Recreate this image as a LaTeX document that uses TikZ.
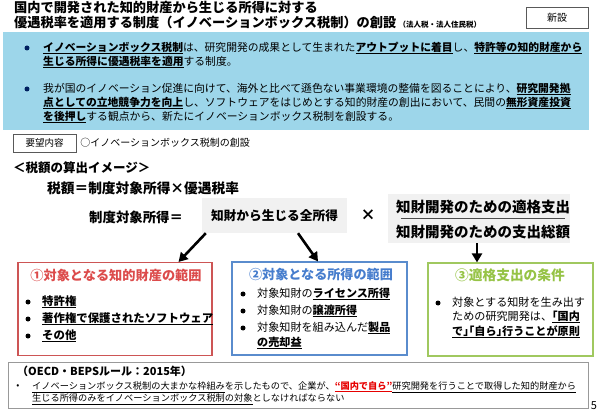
\documentclass[tikz,border=0pt]{standalone}
\usepackage{fontspec}
\setmainfont{Noto Sans CJK JP}
\usetikzlibrary{arrows.meta, positioning, shapes}

\definecolor{skyfill}{RGB}{157,214,234}
\definecolor{navydot}{RGB}{0,32,96}
\definecolor{redline}{RGB}{205,85,85}
\definecolor{redtitle}{RGB}{220,75,75}
\definecolor{blueline}{RGB}{90,140,205}
\definecolor{bluetitle}{RGB}{70,125,205}
\definecolor{greenline}{RGB}{160,200,95}
\definecolor{greentitle}{RGB}{150,195,70}
\definecolor{paleback}{RGB}{241,241,241}
\definecolor{quotered}{RGB}{230,0,0}
\newcommand\fsz[2]{\fontsize{#1}{#2}\selectfont}
\newcommand\ulin[2][1pt]{\setbox0\hbox{#2}\rlap{\rule[-2.6pt]{\wd0}{#1}}\box0}
\newcommand\ulb[1]{\ulin{\bfseries #1}}
\newcommand\half[1]{{\addfontfeatures{RawFeature=+halt}#1}}

\begin{document}
\begin{tikzpicture}[x=1pt,y=-1pt,
        item dot/.style={circle,fill=black,inner sep=0pt,minimum size=5pt},
        plain text/.style={anchor=west,inner sep=0pt,align=left},
        grey box/.style={fill=paleback,inner sep=0pt},
        cond box/.style={draw,line width=1.1pt,inner sep=0pt,minimum width=#1,minimum height=93},
        fat arrow/.style={line width=2.6pt,-{Triangle[length=9pt,width=10pt]}}]
  \useasboundingbox (0,0) rectangle (600,414);

  % title
  \node[plain text, font=\fsz{13.2}{14}\bfseries] (title1) at (14,8) {国内で開発された知的財産から生じる所得に対する};
  \node[plain text, font=\fsz{13.2}{14}\bfseries] (title2) at (14,22) {優遇税率を適用する制度（イノベーションボックス税制）の創設\,{\fsz{7.5}{9}（法人税・法人住民税）}};
  \node[draw=black!65, minimum width=62, minimum height=21, inner sep=0, font=\fsz{10}{12}] (new) at (557,17.5) {新設};

  % outline
  \node[fill=skyfill, minimum width=586, minimum height=98, inner sep=0] (intro) at (296,81) {};
  \node[item dot, fill=navydot] (d1) at (27,48) {};
  \node[item dot, fill=navydot] (d2) at (27,89) {};
  \node[plain text, font=\fsz{10.8}{14}] (p1) at (43,55) {\ulb{イノベーションボックス税制}は、研究開発の成果として生まれた\ulb{アウトプットに着目}し、\ulb{特許等の知的財産から}\\
    \ulb{生じる所得に優遇税率を適用}する制度。};
  \node[plain text, font=\fsz{10.8}{14}] (p2) at (43,103) {我が国のイノベーション促進に向けて、海外と比べて遜色ない事業環境の整備を図ることにより、\ulb{研究開発拠}\\
    \ulb{点としての立地競争力を向上}し、ソフトウェアをはじめとする知的財産の創出において、民間の\ulb{無形資産投資}\\
    \ulb{を後押し}する観点から、新たにイノベーションボックス税制を創設する。};

  \node[draw=black!65, minimum width=63, minimum height=18, inner sep=0, font=\fsz{9.5}{11}] (req) at (44.5,143) {要望内容};
  \node[plain text, font=\fsz{10}{12}, right=4pt of req] (reqtext) {○イノベーションボックス税制の創設};

  % calculation
  \node[plain text, font=\fsz{12.5}{14}\bfseries] (calc) at (13,168) {＜税額の算出イメージ＞};
  \node[plain text, font=\fsz{13.7}{15}\bfseries] (formula) at (47,188) {税額＝制度対象所得×優遇税率};
  \node[plain text, font=\fsz{13.4}{15}\bfseries] (lhs) at (89,217) {制度対象所得＝};
  \node[grey box, minimum width=145, minimum height=35, font=\fsz{12.7}{14}\bfseries] (gross) at (274.5,215.5) {知財から生じる全所得};
  \node[font=\fsz{15}{16}\bfseries] (times) at (368,215) {×};
  \node[grey box, minimum width=182, minimum height=49] (frac) at (479,218.5) {};
  \node[font=\fsz{14.5}{16}\bfseries] (numer) at (483,207) {知財開発のための適格支出};
  \node[font=\fsz{14.5}{16}\bfseries] (denom) at (483,232) {知財開発のための支出総額};
  \draw[line width=0.8pt, black!70] ([xshift=13]frac.west) -- ([xshift=-5]frac.east);

  % three conditions
  \node[cond box=194, draw=redline] (red) at (115,309) {};
  \node[cond box=175, draw=blueline] (blue) at (319.5,308.5) {};
  \node[cond box=165, draw=greenline] (green) at (510.5,309.5) {};

  \node[text=redtitle, font=\fsz{13.2}{15}\bfseries] (redhead) at (116,275) {①対象となる知的財産の範囲};
  \node[item dot] (r1) at (28,302) {};
  \node[item dot] (r2) at (28,319) {};
  \node[item dot] (r3) at (28,336) {};
  \node[plain text, font=\fsz{11.4}{14}] (r1t) at (42,302) {\ulb{特許権}};
  \node[plain text, font=\fsz{11.4}{14}] (r2t) at (42,319) {\ulb{著作権で保護されたソフトウェア}};
  \node[plain text, font=\fsz{11.4}{14}] (r3t) at (42,336) {\ulb{その他}};

  \node[text=bluetitle, font=\fsz{13.1}{15}\bfseries] (bluehead) at (321,274) {②対象となる所得の範囲};
  \node[item dot] (b1) at (243,294) {};
  \node[item dot] (b2) at (243,311) {};
  \node[item dot] (b3) at (243,328) {};
  \node[plain text, font=\fsz{11.1}{15}] (b1t) at (257,294) {対象知財の\ulb{ライセンス所得}};
  \node[plain text, font=\fsz{11.1}{15}] (b2t) at (257,311) {対象知財の\ulb{譲渡所得}};
  \node[plain text, font=\fsz{11.1}{15}] (b3t) at (257,335.5) {対象知財を組み込んだ\ulb{製品}\\\ulb{の売却益}};

  \node[text=greentitle, font=\fsz{13.7}{15}\bfseries] (greenhead) at (510,275) {③適格支出の条件};
  \node[item dot] (g1) at (438,303) {};
  \node[plain text, font=\fsz{11.1}{14.5}] (g1t) at (452,317.5) {対象とする知財を生み出す\\ための研究開発は、\ulb{\half{「}国内}\\\ulb{で\half{」「}自ら\half{」}行うことが原則}};

  % arrows
  \draw[fat arrow] ([xshift=4]gross.south west) -- ([xshift=-34]red.north east);
  \draw[fat arrow] ([xshift=23.5]gross.south) -- ([xshift=-1.5]blue.north);
  \draw[fat arrow] ([xshift=-2]frac.south) -- ([xshift=-2]frac.south |- green.north);

  % OECD note
  \node[draw=black!40, line width=0.8pt, minimum width=580, minimum height=46, inner sep=0] (oecd) at (298,385) {};
  \node[plain text, font=\fsz{11}{13}\bfseries] (oecdhead) at (17,371) {（OECD・BEPSルール：2015年）};
  \node[font=\fsz{9}{11}] (ndot) at (18,387) {•};
  \node[plain text, font=\fsz{9.2}{12}] (note) at (32,393) {\ulin[0.6pt]{イノベーションボックス税制の大まかな枠組み}を示したもので、企業が、{\color{quotered}\ulin{\bfseries “国内で自ら”}}\ulin[0.6pt]{研究開発を行うことで取得した知的財産から}\\
    \ulin[0.6pt]{生じる所得のみをイノベーションボックス税制の対象}としなければならない};
  \node[font=\fsz{11}{12}] (page) at (594,406) {5};
\end{tikzpicture}
\end{document}
